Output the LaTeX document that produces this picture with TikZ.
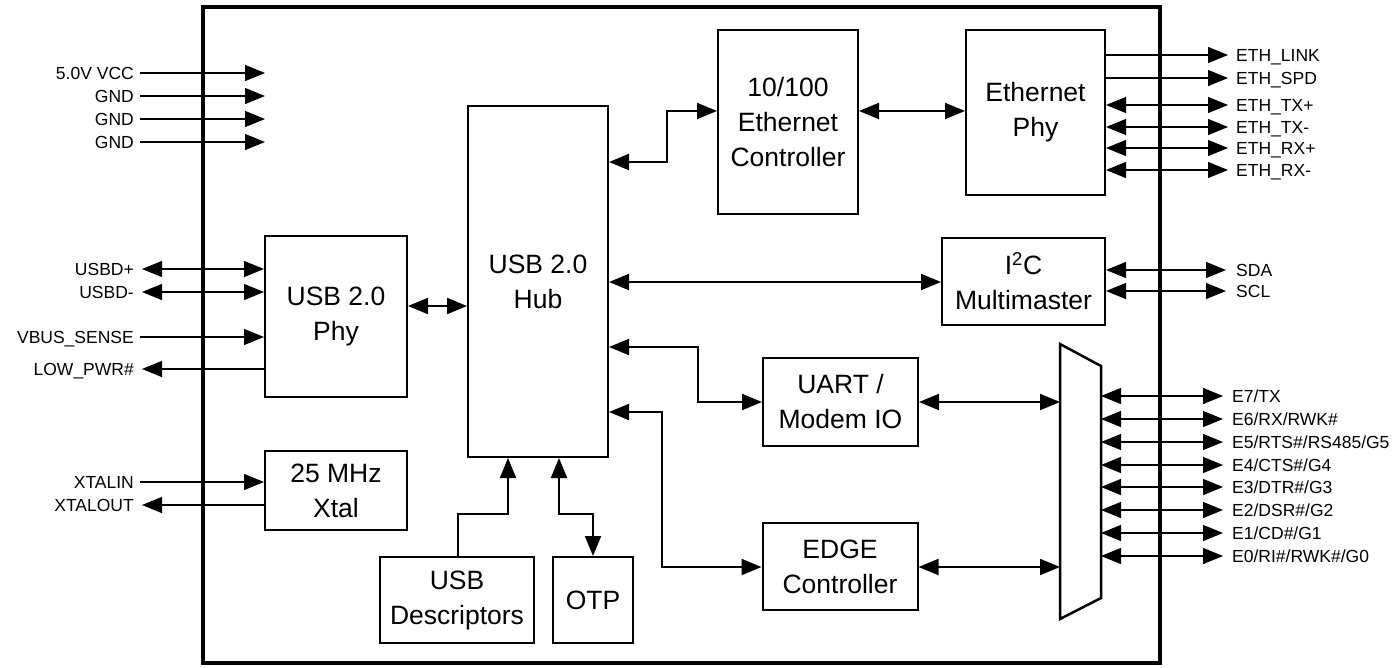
\documentclass[tikz,border=0pt]{standalone}
\usepackage{fontspec}
\setmainfont{Liberation Sans}
\usetikzlibrary{arrows.meta}
\newcommand\boxfnt{\fontsize{26.5}{35}\selectfont}
\newcommand\pinfnt{\fontsize{17.5}{20}\selectfont}
\begin{document}
\begin{tikzpicture}[x=1pt,y=-1pt,
  >={Triangle[length=20pt,width=16pt]},
  box/.style={draw,line width=2pt,align=center,font=\boxfnt,inner sep=0pt},
  conn/.style={line width=2pt},
  pinline/.style={line width=1.2pt},
  lblL/.style={font=\pinfnt,anchor=base east,inner sep=0pt},
  lblR/.style={font=\pinfnt,anchor=base west,inner sep=0pt}]
\useasboundingbox (0,0) rectangle (1397,667);
\draw[line width=4.5pt] (203,7) rectangle (1160,663);

% blocks
\node[box,minimum width=140pt,minimum height=184pt] (ethc) at (788,122) {10/100\\Ethernet\\Controller};
\node[box,minimum width=139pt,minimum height=165pt] (ethphy) at (1035.5,112.5) {Ethernet\\Phy};
\node[box,minimum width=140pt,minimum height=351pt] (hub) at (538,281.5) {USB 2.0\\Hub};
\node[box,minimum width=142pt,minimum height=161pt] (usbphy) at (336,316.5) {USB 2.0\\Phy};
\node[box,minimum width=163pt,minimum height=87pt] (i2c) at (1023.5,281.5) {I\textsuperscript{2}C\\Multimaster};
\node[box,minimum width=155pt,minimum height=88pt] (uart) at (840.5,402) {UART /\\Modem IO};
\node[box,minimum width=155pt,minimum height=87pt] (edge) at (840,566.5) {EDGE\\Controller};
\node[box,minimum width=142pt,minimum height=79pt] (xtal) at (336,490.5) {25 MHz\\Xtal};
\node[box,minimum width=154pt,minimum height=86pt] (desc) at (457,600) {USB\\Descriptors};
\node[box,minimum width=80pt,minimum height=86pt] (otp) at (593,600) {OTP};

% mux
\draw[line width=2.5pt,line join=miter] (1060,344) -- (1101,366) -- (1101,598) -- (1060,619) -- cycle;
\coordinate (muxL) at (1060,480);
\coordinate (muxR) at (1101,480);

% internal connectors
\draw[conn,<->] (hub.east |- 0,162) -- (667,162) -- (667,111) -- (ethc.west |- 0,111);
\draw[conn,<->] (ethc.east |- 0,111) -- (ethphy.west |- 0,111);
\draw[conn,<->] (hub.east |- 0,282) -- (i2c.west |- 0,282);
\draw[conn,<->] (hub.east |- 0,347) -- (698,347) -- (698,402) -- (uart.west |- 0,402);
\draw[conn,<->] (hub.east |- 0,412) -- (662,412) -- (662,567) -- (edge.west |- 0,567);
\draw[conn,<->] (uart.east |- 0,402) -- (muxL |- 0,402);
\draw[conn,<->] (edge.east |- 0,567) -- (muxL |- 0,567);
\draw[conn,<->] (usbphy.east |- 0,306) -- (hub.west |- 0,306);
\draw[conn,->] (desc.north -| 458,0) -- (458,514) -- (508,514) -- (hub.south -| 508,0);
\draw[conn,<->] (hub.south -| 559,0) -- (559,514) -- (593,514) -- (otp.north);

% left power pins
\foreach \n/\y/\t in {vcc/73/5.0V VCC, gnda/96/GND, gndb/119/GND, gndc/142/GND} {
  \node[lblL] (\n) at (134,\y+6.3) {\t};
  \coordinate (\n a) at (140,\y);
  \coordinate (\n b) at (265,\y);
  \draw[pinline,->] (\n a) -- (\n b);
}
% USB pins
\foreach \n/\y/\t in {usbdp/269/USBD+, usbdm/292/USBD-} {
  \node[lblL] (\n) at (134,\y+6.3) {\t};
  \coordinate (\n a) at (142,\y);
  \draw[pinline,<->] (\n a) -- (usbphy.west |- 0,\y);
}
\node[lblL] (vbus) at (134,337+6.3) {VBUS\_SENSE};
\coordinate (vbusa) at (140,337);
\draw[pinline,->] (vbusa) -- (usbphy.west |- 0,337);
\node[lblL] (lowpwr) at (134,369+6.3) {LOW\_PWR\#};
\coordinate (lowpwra) at (142,369);
\draw[pinline,->] (usbphy.west |- 0,369) -- (lowpwra);
\node[lblL] (xin) at (134,482+6.3) {XTALIN};
\coordinate (xina) at (140,482);
\draw[pinline,->] (xina) -- (xtal.west |- 0,482);
\node[lblL] (xout) at (134,505+6.3) {XTALOUT};
\coordinate (xouta) at (142,505);
\draw[pinline,->] (xtal.west |- 0,505) -- (xouta);

% ethernet pins
\foreach \n/\y/\t in {elink/55/ETH\_LINK, espd/78/ETH\_SPD} {
  \node[lblR] (\n) at (1236,\y+6.3) {\t};
  \coordinate (\n a) at (1228,\y);
  \draw[pinline,->] (ethphy.east |- 0,\y) -- (\n a);
}
\foreach \n/\y/\t in {etxp/105/ETH\_TX+, etxm/127/ETH\_TX-, erxp/148/ETH\_RX+, erxm/170/ETH\_RX-} {
  \node[lblR] (\n) at (1236,\y+6.3) {\t};
  \coordinate (\n a) at (1228,\y);
  \draw[pinline,<->] (ethphy.east |- 0,\y) -- (\n a);
}
% I2C pins
\foreach \n/\y/\t in {sda/270/SDA, scl/291/SCL} {
  \node[lblR] (\n) at (1236,\y+6.3) {\t};
  \coordinate (\n a) at (1226,\y);
  \draw[pinline,<->] (i2c.east |- 0,\y) -- (\n a);
}
% E pins
\foreach \n/\y/\t in {ea/396/{E7/TX}, eb/419/{E6/RX/RWK\#}, ec/442/{E5/RTS\#/RS485/G5}, ed/465/{E4/CTS\#/G4}, ee/487/{E3/DTR\#/G3}, ef/510/{E2/DSR\#/G2}, eg/533/{E1/CD\#/G1}, eh/556/{E0/RI\#/RWK\#/G0}} {
  \node[lblR] (\n) at (1232,\y+6.3) {\t};
  \coordinate (\n a) at (1223,\y);
  \draw[pinline,<->] (muxR |- 0,\y) -- (\n a);
}
\end{tikzpicture}
\end{document}
